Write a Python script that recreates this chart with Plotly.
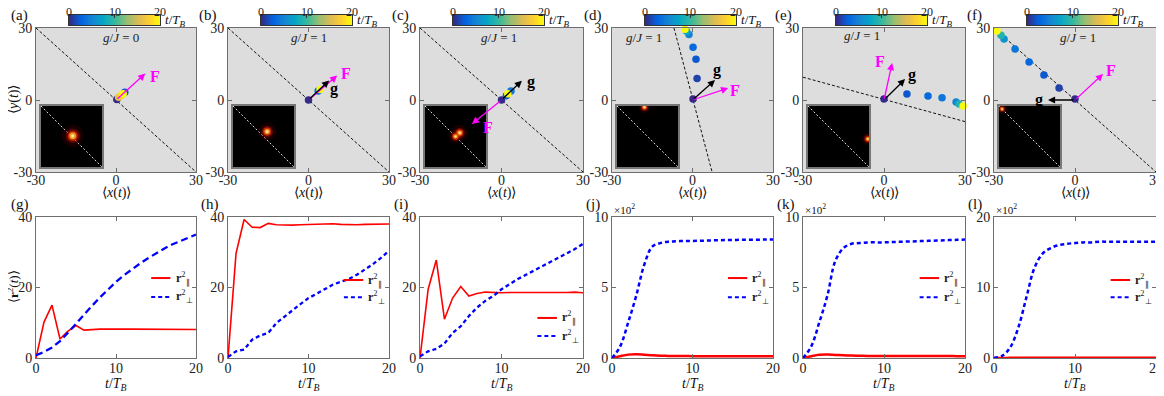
import plotly.graph_objects as go

# the page body adds an 8 px margin at the top-left, so every position below
# is given in screenshot pixels and shifted back by that offset
W, H = 1164, 396
OFF = 8
FW, FH = W - OFF, H - OFF
SERIF = 'Liberation Serif'

# parula-like colour map for t/T_B
PARULA = ['#352a87', '#0363e1', '#1485d4', '#06a7c6', '#38b99e',
          '#92bf73', '#d9ba56', '#fcce2e', '#f9fb0e']
parula_scale = [[k / (len(PARULA) - 1), c] for k, c in enumerate(PARULA)]

# ---------------- top row (a)-(f): trajectories ----------------
top_tags = ['(a)', '(b)', '(c)', '(d)', '(e)', '(f)']
gJ = [0, 1, 1, 1, 1, 1]
gJ_x = [2, 0, -1, -18, -8, 1]
gJ_y = [26, 26, 26, 26, 27, 26]

dots_x = [
    [0.3, 3.3, 1.0, 2.0, 2.7],
    [0.0, 3.6, 4.3],
    [0.0, 1.8, 3.5, 2.3],
    [0.2, 1.7, 1.3, 0.2, -1.3, -2.2, -2.8],
    [0.0, 8.5, 16.3, 21.5, 26.7, 27.8, 29.3],
    [0.0, -5.9, -11.5, -17.0, -22.2, -26.3, -27.4, -28.9],
]
dots_y = [
    [0.2, 3.2, 1.1, 2.0, 2.6],
    [0.0, 3.8, 4.4],
    [0.0, 1.8, 3.8, 2.6],
    [0.4, 9.0, 17.0, 22.0, 27.3, 28.6, 29.5],
    [0.4, 2.5, 1.7, 0.9, -0.8, -1.7, -2.5],
    [0.4, 5.0, 10.4, 15.8, 21.2, 25.4, 27.0, 28.8],
]
dots_t = [
    [0, 2, 16, 18, 20],
    [0, 3, 20],
    [0, 2, 4, 20],
    [0, 1, 2, 3, 5, 8, 20],
    [0, 2, 3, 4, 5, 9, 20],
    [0, 1, 2, 3, 4, 6, 9, 20],
]

guide_x = [[-30, 30], [-30, 30], [-30, 30], [-6.9, 7.3], [-30, 30], [-30, 30]]
guide_y = [[30, -30], [30, -30], [30, -30], [30, -30], [9.5, -9], [30, -30]]

F_tip_x = [11, 10.7, -10.9, 13.3, 3, 10.4]
F_tip_y = [11, 10.2, -10, 5, 15.4, 10.8]
F_lab_x = [14.5, 14, -5, 16, -1.5, 13.5]
F_lab_y = [10, 11, -11.5, 4, 16, 12.5]

g_tip_x = [None, 7.7, 7.5, 8.4, 7.8, -10]
g_tip_y = [None, 8.1, 8, 8.3, 8.7, 0]
g_lab_x = [None, 9.5, 11, 9.2, 10.5, -13.5]
g_lab_y = [None, 4.4, 7.5, 12.5, 10.4, 0]

# bright spot(s) inside each inset, inset coords 0..1
spot_x = [[0.52], [0.56], [0.5, 0.57], [0.45], [0.98], [0.05]]
spot_y = [[0.51], [0.58], [0.5, 0.56], [0.98], [0.46], [0.95]]
spot_r = [[1.1], [0.9], [0.7, 0.8], [0.6], [0.6], [0.5]]

cb_levels = [0, 1, 2, 3, 4, 5, 6, 7, 8, 9, 10, 11, 12, 13, 14, 15, 16, 17, 18, 19, 20]
cb_ticks = [0, 10, 20]

# ---------------- bottom row (g)-(l): <r^2(t)> ----------------
bottom_tags = ['(g)', '(h)', '(i)', '(j)', '(k)', '(l)']
t_steps = [0, 1, 2, 3, 4, 5, 6, 7, 8, 9, 10, 11, 12, 13, 14, 15, 16, 17, 18, 19, 20]

r_par = [
    [0, 10.2, 15, 5.4, 7.6, 9.2, 7.9, 8.1, 8.2, 8.2, 8.1, 8.2, 8.2, 8.2, 8.2, 8.2, 8.2, 8.2, 8.2, 8.1, 8.1],
    [0, 29.7, 39.3, 37.1, 37.0, 38.2, 37.8, 37.7, 37.7, 37.8, 37.9, 37.8, 38.0, 38.1, 37.9, 37.8, 37.8, 37.9, 38.0, 38.0, 38.0],
    [0, 19.5, 27.8, 11, 17, 20.3, 17.6, 18.3, 18.7, 18.5, 18.5, 18.6, 18.6, 18.4, 18.6, 18.6, 18.5, 18.6, 18.6, 18.7, 18.5],
    [0, 0.13, 0.24, 0.26, 0.23, 0.19, 0.16, 0.15, 0.14, 0.14, 0.13, 0.13, 0.13, 0.13, 0.13, 0.13, 0.13, 0.13, 0.13, 0.13, 0.13],
    [0, 0.12, 0.23, 0.25, 0.22, 0.19, 0.17, 0.16, 0.15, 0.15, 0.15, 0.15, 0.15, 0.14, 0.14, 0.14, 0.14, 0.14, 0.14, 0.13, 0.13],
    [0, 0.01, 0.02, 0.02, 0.02, 0.02, 0.02, 0.02, 0.02, 0.02, 0.02, 0.02, 0.02, 0.02, 0.02, 0.02, 0.02, 0.02, 0.02, 0.02, 0.02],
]
r_perp = [
    [0.8, 1.7, 3.0, 4.8, 7.2, 9.8, 12.3, 14.8, 17.2, 19.5, 21.6, 23.5, 25.2, 26.8, 28.3, 29.7, 31.0, 32.2, 33.2, 34.1, 35.0],
    [0.3, 1.9, 2.4, 5.2, 6.4, 7.1, 9.9, 11.6, 13.5, 15.3, 17.0, 18.2, 19.5, 20.8, 21.6, 22.4, 23.6, 25.0, 26.6, 28.4, 30.4],
    [0.5, 1.9, 2.6, 4.1, 7.1, 9.0, 11.9, 14.3, 16.2, 17.6, 19.5, 21.0, 22.4, 23.6, 24.8, 26.0, 27.1, 28.3, 29.5, 30.9, 32.4],
    [0, 0.8, 2.5, 4.4, 6.6, 7.9, 8.15, 8.25, 8.28, 8.3, 8.3, 8.32, 8.33, 8.35, 8.36, 8.37, 8.38, 8.38, 8.39, 8.4, 8.4],
    [0, 0.8, 2.5, 4.4, 6.9, 7.8, 8.1, 8.15, 8.2, 8.2, 8.2, 8.22, 8.24, 8.26, 8.28, 8.3, 8.32, 8.34, 8.36, 8.38, 8.4],
    [0, 0.3, 1.5, 4.3, 8.6, 12.8, 14.8, 15.6, 16.0, 16.2, 16.3, 16.4, 16.4, 16.5, 16.5, 16.5, 16.5, 16.5, 16.5, 16.5, 16.5],
]
y_top = [40, 40, 40, 10, 10, 20]
y_ticks = [[0, 20, 40], [0, 20, 40], [0, 20, 40], [0, 5, 10], [0, 5, 10], [0, 10, 20]]
times_100 = [False, False, False, True, True, True]
leg_y_par = [0.567, 0.553, 0.284, 0.567, 0.567, 0.553]
leg_y_perp = [0.433, 0.43, 0.156, 0.43, 0.43, 0.43]

# ---------------- layout helpers ----------------
panel_lr = [(36, 196), (228, 389), (420, 583), (612, 773), (803, 965), (994, 1156)]
TOP = (28, 172)
BOT = (217, 358)
CBAR = (15, 25)


def px(p):
    return (p - OFF) / FW


def py(p):
    return 1 - (p - OFF) / FH


def nm(n, c):
    return c if n == 1 else f'{c}{n}'


def key(n, c):
    return f'{c}axis' if n == 1 else f'{c}axis{n}'


def xdom(l, r):
    return [px(l), px(r)]


def ydom(t, b):
    return [py(b), py(t)]


frame = dict(showline=True, mirror='allticks', linecolor='#6e6e6e', linewidth=1,
             ticks='inside', ticklen=4, tickcolor='#6e6e6e', showgrid=False,
             zeroline=False, fixedrange=True, automargin=False, ticklabeloverflow='allow',
             tickfont=dict(family=SERIF, size=14, color='#222'))
hidden = dict(showline=True, mirror=True, linecolor='#777', linewidth=1.5,
              showticklabels=False, ticks='', showgrid=False, zeroline=False,
              range=[0, 1], fixedrange=True, automargin=False)

fig = go.Figure()
axes = {}
shapes = []
ann = []


def label(x, y, text, size=14, **kw):
    d = dict(x=px(x), y=py(y), xref='paper', yref='paper', text=text, showarrow=False,
             xanchor='center', yanchor='middle',
             font=dict(family=SERIF, size=size, color='#111'))
    d.update(kw)
    ann.append(d)


for i, (l, r) in enumerate(panel_lr):
    # main trajectory panel
    n = i + 1
    xa, ya = nm(n, 'x'), nm(n, 'y')
    axes[key(n, 'x')] = dict(domain=xdom(l, r), anchor=ya, range=[-30, 30],
                             tickvals=[-30, 0, 30], ticktext=['-30', '0', '30'],
                             ticklabelstandoff=-5, **frame)
    axes[key(n, 'y')] = dict(domain=ydom(*TOP), anchor=xa, range=[-30, 30],
                             tickvals=[-30, 0, 30], ticktext=['-30', '0', '30'], **frame)
    shapes.append(dict(type='rect', xref=f'{xa} domain', yref=f'{ya} domain',
                       x0=0, x1=1, y0=0, y1=1, fillcolor='#dddddd', line_width=0,
                       layer='below'))
    fig.add_trace(go.Scatter(x=guide_x[i], y=guide_y[i], mode='lines', xaxis=xa, yaxis=ya,
                             line=dict(color='#111', width=1, dash='3px,2px')))
    fig.add_trace(go.Scatter(x=dots_x[i], y=dots_y[i], mode='markers', xaxis=xa, yaxis=ya,
                             cliponaxis=False,
                             marker=dict(size=7.5, color=dots_t[i], cmin=0, cmax=20,
                                         colorscale=parula_scale, line_width=0)))
    ann.append(dict(x=gJ_x[i], y=gJ_y[i], xref=xa, yref=ya, showarrow=False,
                    text=f'<i>g</i>/<i>J</i> = {gJ[i]}',
                    font=dict(family=SERIF, size=13, color='#222')))
    # force and gradient arrows
    ann.append(dict(x=F_tip_x[i], y=F_tip_y[i], ax=0, ay=0, xref=xa, yref=ya,
                    axref=xa, ayref=ya, text='', showarrow=True, arrowhead=2,
                    arrowsize=1.1, arrowwidth=1.3, arrowcolor='#ff00ff'))
    ann.append(dict(x=F_lab_x[i], y=F_lab_y[i], xref=xa, yref=ya, showarrow=False,
                    text='<b>F</b>', font=dict(family=SERIF, size=16, color='#ff00ff')))
    if g_tip_x[i] is not None:
        ann.append(dict(x=g_tip_x[i], y=g_tip_y[i], ax=0, ay=0, xref=xa, yref=ya,
                        axref=xa, ayref=ya, text='', showarrow=True, arrowhead=2,
                        arrowsize=1.1, arrowwidth=1.3, arrowcolor='#000'))
        ann.append(dict(x=g_lab_x[i], y=g_lab_y[i], xref=xa, yref=ya, showarrow=False,
                        text='<b>g</b>', font=dict(family=SERIF, size=16, color='#000')))
    label((l + r) / 2, 193, '⟨<i>x</i>(<i>t</i>)⟩', size=14)

    # inset density map
    m = 13 + i
    xi, yi = nm(m, 'x'), nm(m, 'y')
    axes[key(m, 'x')] = dict(domain=xdom(l + 5, l + 66), anchor=yi, **hidden)
    axes[key(m, 'y')] = dict(domain=ydom(106, 167), anchor=xi, **hidden)
    fig.add_trace(go.Heatmap(z=[[0]], x=[0.5], y=[0.5], xaxis=xi, yaxis=yi,
                             colorscale=[[0, '#000'], [1, '#000']], showscale=False))
    fig.add_trace(go.Scatter(x=[0, 1], y=[1, 0], mode='lines', xaxis=xi, yaxis=yi,
                             line=dict(color='#dddddd', width=1, dash='2px,2px')))
    glow = [(20, 'rgba(110,0,0,0.3)'), (13, 'rgba(200,10,0,0.6)'),
            (9, 'rgba(255,70,0,0.9)'), (6, 'rgba(255,200,40,1)'), (3, '#ffffee')]
    for sz, col in glow:
        fig.add_trace(go.Scatter(x=spot_x[i], y=spot_y[i], mode='markers', xaxis=xi, yaxis=yi,
                                 marker=dict(size=[sz * s for s in spot_r[i]], color=col,
                                             line_width=0)))

    # colour bar
    c = 19 + i
    xc, yc = nm(c, 'x'), nm(c, 'y')
    cl, cr = l + 33, l + 124
    axes[key(c, 'x')] = dict(domain=xdom(cl, cr), anchor=yc, side='top',
                             range=[0, 20], tickvals=cb_ticks, ticks='inside', ticklen=3,
                             tickcolor='#333', showline=True, mirror=True, linecolor='#333',
                             linewidth=1, showgrid=False, zeroline=False, fixedrange=True,
                             automargin=False, showticklabels=False)
    axes[key(c, 'y')] = dict(domain=ydom(*CBAR), anchor=xc, range=[-0.5, 0.5],
                             showticklabels=False, ticks='', showline=True, mirror=True,
                             linecolor='#333', linewidth=1, showgrid=False, zeroline=False,
                             fixedrange=True, automargin=False)
    fig.add_trace(go.Heatmap(z=[cb_levels], x=cb_levels, y=[0], xaxis=xc, yaxis=yc,
                             colorscale=parula_scale, zmin=0, zmax=20, zsmooth='best',
                             showscale=False))
    for tv in cb_ticks:
        ann.append(dict(x=tv, y=py(12), xref=xc, yref='paper', xanchor='center',
                        yanchor='middle', showarrow=False, text=str(tv),
                        font=dict(family=SERIF, size=12, color='#222')))
    label(l + 127, 20, '<i>t</i>/<i>T</i><sub><i>B</i></sub>', size=13, xanchor='left')

    # bottom <r^2> panel
    b = 7 + i
    xb, yb = nm(b, 'x'), nm(b, 'y')
    axes[key(b, 'x')] = dict(domain=xdom(l, r), anchor=yb, range=[0, 20],
                             tickvals=[0, 10, 20], ticklabelstandoff=-3, **frame)
    axes[key(b, 'y')] = dict(domain=ydom(*BOT), anchor=xb, range=[0, y_top[i]],
                             tickvals=y_ticks[i], **frame)
    thick = 2.5 if times_100[i] else 1.6
    dash = '7px,4px' if i == 0 else '4px,3px'
    shape = 'spline' if times_100[i] else 'linear'
    fig.add_trace(go.Scatter(x=t_steps, y=r_par[i], mode='lines', xaxis=xb, yaxis=yb,
                             line=dict(color='#ff0000', width=thick, shape=shape)))
    fig.add_trace(go.Scatter(x=t_steps, y=r_perp[i], mode='lines', xaxis=xb, yaxis=yb,
                             line=dict(color='#0000ff', width=2.3 if i < 3 else 2.5,
                                       dash=dash, shape=shape)))
    # hand-made legend
    shapes.append(dict(type='line', xref=f'{xb} domain', yref=f'{yb} domain',
                       x0=0.72, x1=0.84, y0=leg_y_par[i], y1=leg_y_par[i],
                       line=dict(color='#ff0000', width=2)))
    shapes.append(dict(type='line', xref=f'{xb} domain', yref=f'{yb} domain',
                       x0=0.72, x1=0.84, y0=leg_y_perp[i], y1=leg_y_perp[i],
                       line=dict(color='#0000ff', width=2, dash='4px,3px')))
    ann.append(dict(x=0.86, y=leg_y_par[i], xref=f'{xb} domain', yref=f'{yb} domain',
                    xanchor='left', yanchor='middle', showarrow=False,
                    text='<b>r</b><sup>2</sup><sub>∥</sub>',
                    font=dict(family=SERIF, size=12, color='#222')))
    ann.append(dict(x=0.86, y=leg_y_perp[i], xref=f'{xb} domain', yref=f'{yb} domain',
                    xanchor='left', yanchor='middle', showarrow=False,
                    text='<b>r</b><sup>2</sup><sub>⊥</sub>',
                    font=dict(family=SERIF, size=12, color='#222')))
    if times_100[i]:
        label(l, 209, '×10<sup>2</sup>', size=11, xanchor='left')
    label((l + r) / 2, 384, '<i>t</i>/<i>T</i><sub><i>B</i></sub>', size=14)

# panel tags
top_tag_x = [9, 197, 390, 582, 773, 965]
bot_tag_x = [9, 199, 392, 584, 775, 966]
for i in range(6):
    label(top_tag_x[i], 15, top_tags[i], size=15, xanchor='left')
    label(bot_tag_x[i], 204, bottom_tags[i], size=15, xanchor='left')

label(14, 100, '⟨<i>y</i>(<i>t</i>)⟩', size=14, textangle=-90)
label(13, 287, '⟨<b>r</b><sup>2</sup>(<i>t</i>)⟩', size=13, textangle=-90)

fig.update_layout(**axes)
fig.update_layout(
    width=FW, height=FH,
    margin=dict(l=0, r=0, t=0, b=0, autoexpand=False),
    paper_bgcolor='white',
    plot_bgcolor='rgba(0,0,0,0)',
    showlegend=False,
    shapes=shapes,
    annotations=ann,
)
fig.write_html("out.html")
